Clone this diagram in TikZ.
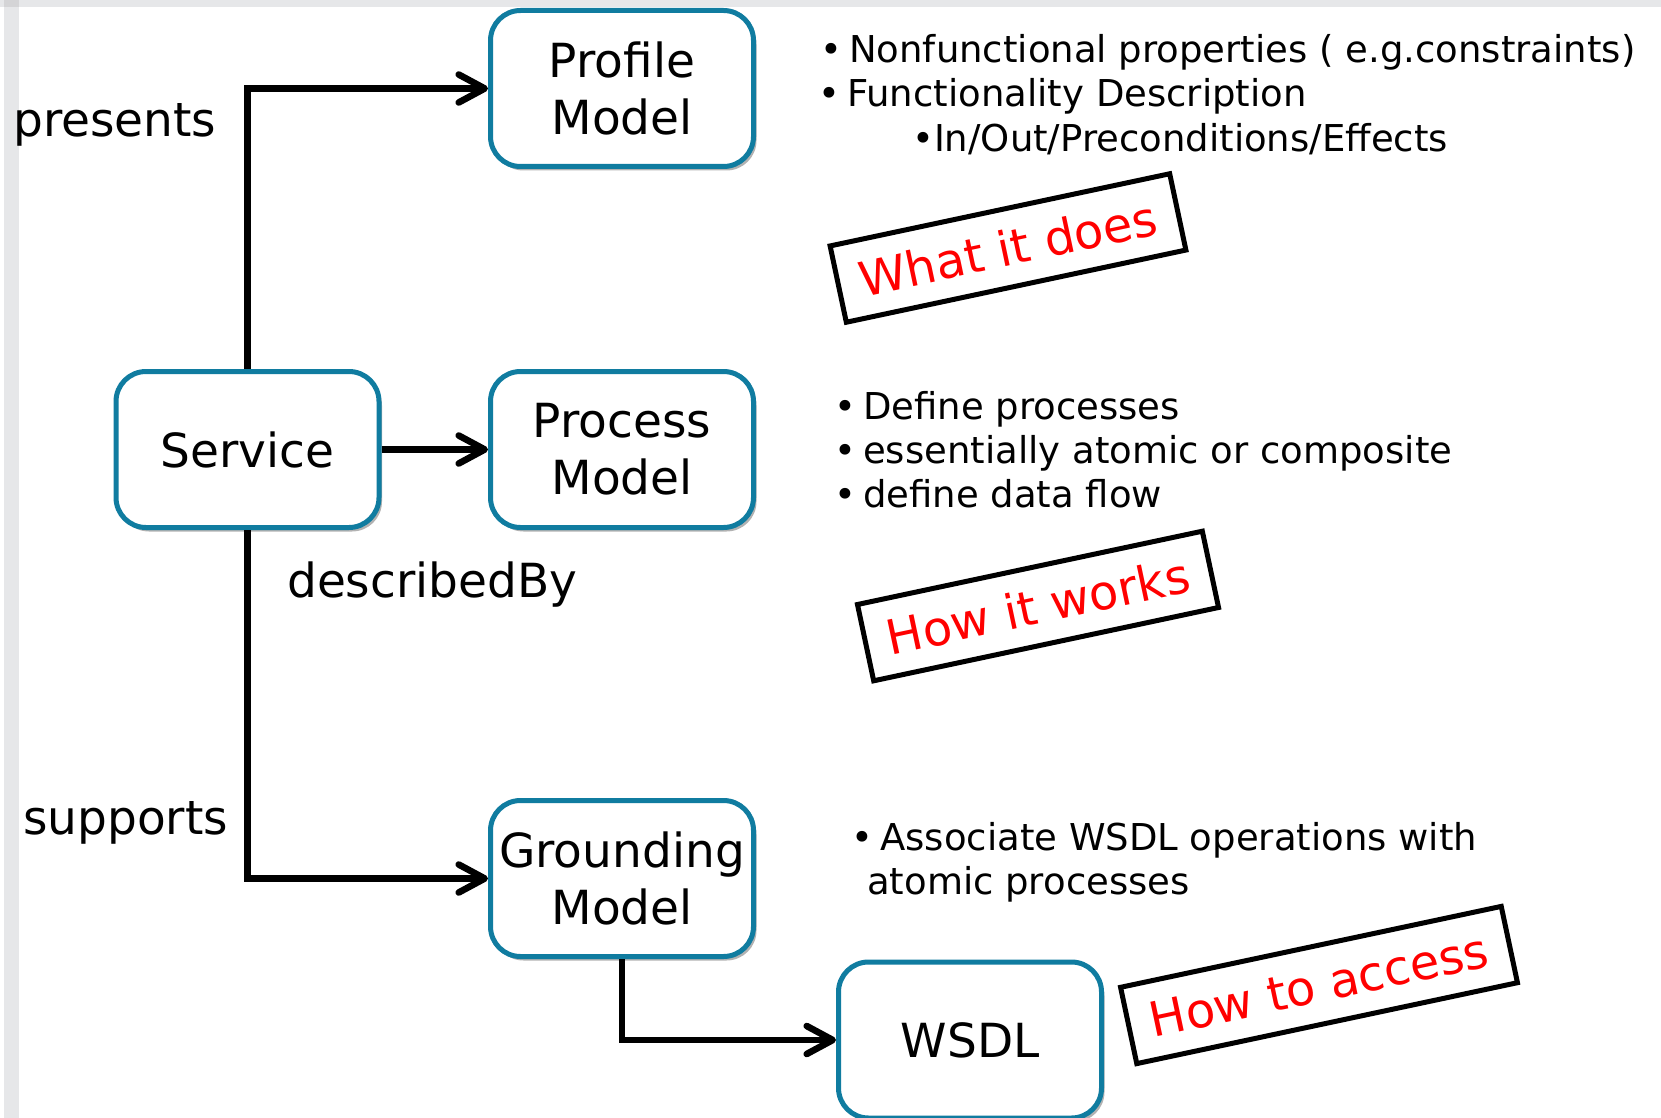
\documentclass[tikz,border=0pt]{standalone}
\usepackage{fontspec}
\setmainfont{DejaVu Sans}
\usepackage{xcolor}
\usetikzlibrary{arrows.meta, shadows}
\definecolor{modelblue}{RGB}{16,124,160}
\definecolor{slidegrey}{RGB}{230,231,233}
\newcommand{\itm}{\llap{\textbullet\hspace{7pt}}}

\begin{document}
\begin{tikzpicture}[x=1pt, y=-1pt,
    model/.style={draw=modelblue, line width=5pt, fill=white, rounded corners=30pt,
        minimum width=263pt, minimum height=156pt, align=center, inner sep=0pt,
        font=\fontsize{47}{57}\selectfont,
        drop shadow={shadow xshift=3pt, shadow yshift=-4pt, opacity=0.3, fill=black}},
    link/.style={line width=6.6pt, -{Straight Barb[length=26pt, width=28pt, round]}},
    relation/.style={anchor=base west, inner sep=0pt, font=\fontsize{47}{57}\selectfont},
    note/.style={anchor=base west, inner sep=0pt, font=\fontsize{37}{44}\selectfont},
    stamp/.style={draw, line width=5pt, text=red, rotate=12, inner xsep=22pt,
        minimum height=78pt, font=\fontsize{48}{56}\selectfont}]

    % Page frame
    \useasboundingbox (0,0) rectangle (1661,1118);
    \fill[white] (0,0) rectangle (1661,1118);
    \fill[slidegrey] (0,0) rectangle (1661,7);
    \fill[slidegrey] (4,0) rectangle (19,1118);
    \fill[slidegrey!92!black] (4,0) rectangle (19,7);

    % Draw the model boxes
    \node[model] (profile) at (622,88.5) {Profile\\Model};
    \node[model] (service) at (247.5,449.5) {Service};
    \node[model] (process) at (622,449.5) {Process\\Model};
    \node[model] (grounding) at (622,878.5) {Grounding\\Model};
    \node[model] (wsdl) at (970,1040) {WSDL};

    % Draw the relations
    \draw[link] (service.north) |- (profile.west);
    \draw[link] (service.east) -- (process.west);
    \draw[link] (service.south) |- (grounding.west);
    \draw[link] (grounding.south) |- (wsdl.west);

    \node[relation] (presents) at (13,137) {presents};
    \node[relation] (describedby) at (287,597) {describedBy};
    \node[relation] (supports) at (23,834) {supports};

    % Add notes for each model
    \node[note] (pf1) at (849,63) {\itm Nonfunctional properties ( e.g.constraints)};
    \node[note] (pf2) at (847,107) {\itm Functionality Description};
    \node[note] (pf3) at (912,152) {\textbullet In/Out/Preconditions/Effects};

    \node[note] (pr1) at (863,419) {\itm Define processes};
    \node[note] (pr2) at (863,463) {\itm essentially atomic or composite};
    \node[note] (pr3) at (863,507) {\itm define data flow};

    \node[note] (gr1) at (880,850) {\itm Associate WSDL operations with};
    \node[note] (gr2) at (867,894) {atomic processes};

    % Red stamps
    \node[stamp] (does) at (1008,248) {What it does};
    \node[stamp] (works) at (1038,606) {How it works};
    \node[stamp] (access) at (1319,985) {How to access};
\end{tikzpicture}
\end{document}
